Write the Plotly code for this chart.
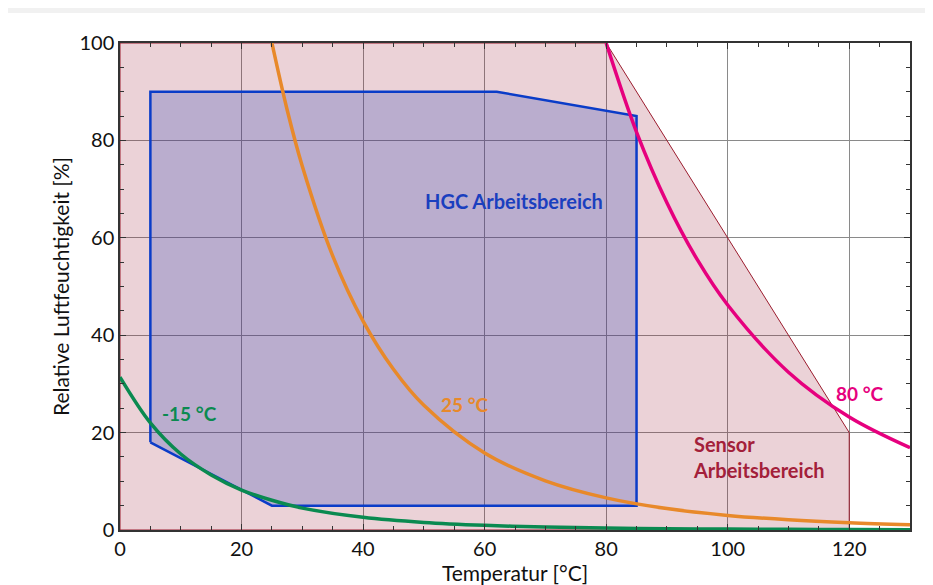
import plotly.graph_objects as go

# --- data ---
sensor_x = [0, 0, 80, 120, 120, 0]
sensor_y = [0, 100, 100, 20, 0, 0]

hgc_x = [5, 5, 62, 85, 85, 25, 5]
hgc_y = [18, 90, 90, 85, 5, 5, 18]

t_m15 = [0, 5, 10, 15, 20, 25, 30, 40, 50, 60, 70, 80, 90, 100, 110, 120, 130]
rh_m15 = [31.4, 22.0, 15.6, 11.3, 8.2, 6.1, 4.5, 2.6, 1.55, 0.96, 0.61, 0.40, 0.27, 0.18, 0.13, 0.09, 0.07]

t_25 = [25, 27.5, 30, 35, 40, 45, 50, 60, 70, 80, 90, 100, 110, 120, 130]
rh_25 = [100, 86.3, 74.7, 56.3, 42.9, 33.0, 25.6, 15.8, 10.1, 6.6, 4.4, 3.0, 2.1, 1.5, 1.1]

t_80 = [80, 85, 90, 95, 100, 110, 120, 130]
rh_80 = [100, 81.7, 67.2, 55.5, 46.2, 32.4, 23.2, 16.9]

x_ticks = [0, 20, 40, 60, 80, 100, 120]
y_ticks = [0, 20, 40, 60, 80, 100]

FONT = "Lato"

fig = go.Figure()

fig.add_trace(go.Scatter(x=sensor_x, y=sensor_y, mode="lines", fill="toself",
                         fillcolor="rgba(155,30,55,0.2)",
                         line=dict(color="#9b1c2e", width=1), hoverinfo="skip"))
fig.add_trace(go.Scatter(x=hgc_x, y=hgc_y, mode="lines", fill="toself",
                         fillcolor="rgba(30,60,180,0.24)",
                         line=dict(color="#0a3cc8", width=2.5), hoverinfo="skip"))
fig.add_trace(go.Scatter(x=t_m15, y=rh_m15, mode="lines", line_shape="spline",
                         line=dict(color="#0a8a50", width=3.5)))
fig.add_trace(go.Scatter(x=t_25, y=rh_25, mode="lines", line_shape="spline",
                         line=dict(color="#e8892a", width=3.5)))
fig.add_trace(go.Scatter(x=t_80, y=rh_80, mode="lines", line_shape="spline",
                         line=dict(color="#e6007e", width=3.5)))

annots = [
    dict(x=49.9, y=67.6, text="<b>HGC Arbeitsbereich</b>", color="#1a3fbf", size=20),
    dict(x=6.5, y=24.0, text="<b>-15 °C</b>", color="#0a8a50", size=19),
    dict(x=52.5, y=25.8, text="<b>25 °C</b>", color="#e8892a", size=19),
    dict(x=117.5, y=28.1, text="<b>80 °C</b>", color="#e6007e", size=19),
    dict(x=94.0, y=15.0, text="<b>Sensor<br>Arbeitsbereich</b>", color="#a3203a", size=20),
]
for a in annots:
    fig.add_annotation(x=a["x"], y=a["y"], text=a["text"], showarrow=False,
                       xanchor="left", yanchor="middle", align="left",
                       font=dict(family=FONT, size=a["size"], color=a["color"]))

# card background (page is offset by the 8px body margin)
fig.add_shape(type="rect", xref="paper", yref="paper", layer="below",
              x0=-0.3, x1=1.2, y0=-0.3, y1=(522 - 5) / 487,
              fillcolor="white", line=dict(width=0))

axis_common = dict(
    showgrid=True, gridcolor="#8a8a8a", gridwidth=1,
    showline=True, linecolor="#333333", linewidth=1.5, mirror="allticks",
    ticks="inside", ticklen=6, tickcolor="#333333",
    minor=dict(dtick=5, ticks="inside", ticklen=4, tickcolor="#333333", showgrid=False),
    zeroline=False, automargin=False,
    tickfont=dict(family=FONT, size=20, color="#111111"),
)

fig.update_layout(
    width=933, height=585,
    margin=dict(l=112, r=31, t=35, b=63),
    paper_bgcolor="#f1f1f1", plot_bgcolor="white",
    showlegend=False,
    xaxis=dict(range=[0, 130], tickvals=x_ticks, **axis_common,
               title=dict(text="Temperatur [°C]", standoff=7,
                          font=dict(family=FONT, size=21, color="#111111"))),
    yaxis=dict(range=[0, 100], tickvals=y_ticks, **axis_common,
               title=dict(text="Relative Luftfeuchtigkeit [%]", standoff=4,
                          font=dict(family=FONT, size=21, color="#111111"))),
)

fig.write_html("out.html")
